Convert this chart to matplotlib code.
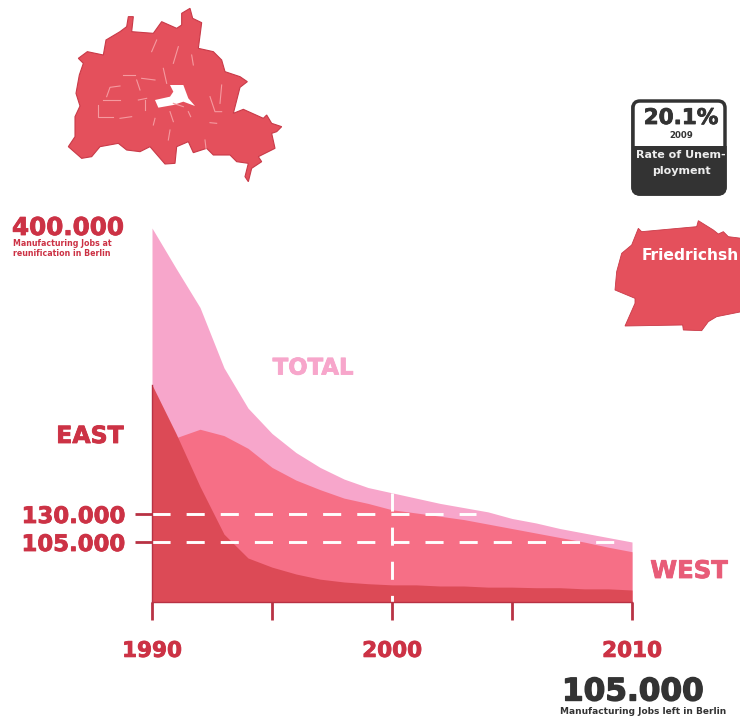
import numpy as np
import matplotlib
matplotlib.use("Agg")
import matplotlib.pyplot as plt
import matplotlib.patheffects as pe
from matplotlib.patches import Polygon, FancyBboxPatch, Rectangle

# jobs in thousands
years = list(range(1990, 2011))
total = [400, 362, 325, 268, 230, 206, 188, 174, 163, 155, 150,
         145, 140, 136, 132, 126, 122, 117, 113, 109, 105]
west = [172, 202, 210, 204, 192, 174, 162, 153, 145, 140, 134,
        131, 128, 125, 121, 117, 113, 109, 105, 96, 88]
east = [252, 206, 156, 112, 77, 61, 49, 40, 35, 32, 30,
        30, 28, 28, 26, 26, 25, 25, 23, 23, 21]

x_ticks = [1990, 1995, 2000, 2005, 2010]
x_tick_labels = ["1990", "", "2000", "", "2010"]
y_ticks = [105, 130]
y_tick_labels = ["105.000", "130.000"]

# the original's vertical axis is not linear
scale_values = [0, 105, 130, 400]
scale_heights = [0, 60, 88, 374]

# illustration outlines, in picture pixels x3
berlin = [(235, 175), (262, 155), (310, 165), (318, 120), (360, 95), (380, 80), (385, 50),
          (400, 50), (395, 95), (460, 100), (485, 65), (530, 85), (545, 75), (545, 40),
          (570, 25), (578, 55), (605, 68), (595, 145), (640, 155), (665, 180), (675, 215),
          (720, 230), (742, 245), (720, 262), (700, 340), (730, 328), (790, 355), (800, 345),
          (815, 370), (845, 380), (830, 395), (815, 400), (825, 445), (775, 470), (785, 485),
          (755, 505), (745, 545), (735, 530), (745, 490), (710, 485), (690, 465), (640, 465),
          (620, 445), (580, 458), (565, 425), (530, 440), (525, 490), (495, 492), (450, 440),
          (420, 455), (380, 450), (355, 430), (300, 440), (275, 470), (245, 475), (205, 440),
          (225, 410), (225, 350), (240, 318), (228, 280), (238, 225), (250, 190)]
berlin_hole = [(510, 255), (550, 255), (565, 295), (585, 318), (550, 305), (520, 315),
               (475, 323), (465, 300), (510, 290), (520, 275)]
districts = [[(320, 290), (330, 262), (360, 258)], [(310, 300), (360, 300)],
             [(295, 315), (295, 350), (340, 350)], [(370, 225), (405, 225)],
             [(425, 235), (465, 240)], [(410, 240), (420, 270)], [(360, 355), (395, 350)],
             [(415, 300), (440, 295)], [(435, 300), (435, 330)], [(465, 355), (460, 375)],
             [(510, 390), (505, 420)], [(535, 140), (520, 190)], [(470, 120), (455, 155)],
             [(490, 205), (500, 250)], [(575, 165), (580, 195)], [(665, 255), (660, 310)],
             [(630, 290), (645, 335), (665, 335)], [(630, 368), (650, 370)],
             [(615, 420), (618, 445)], [(520, 310), (550, 320)], [(565, 335), (572, 350)],
             [(510, 335), (520, 365)]]
# this one is x3 from (600, 90)
friedrichshain = [(115, 415), (125, 425), (290, 410), (295, 392), (340, 420), (355, 432),
                  (370, 425), (385, 440), (425, 445), (425, 665), (350, 680), (325, 695),
                  (305, 722), (250, 720), (248, 705), (75, 708), (105, 640), (105, 625),
                  (45, 600), (50, 545), (65, 490), (95, 465)]

RED = "#dc4a56"
MID = "#f66f86"
PINK = "#f7a6cb"
TEXT_RED = "#cc3245"
TICK_RED = "#b83244"
DARK = "#333333"

plt.rcParams["font.family"] = "DejaVu Sans"
plt.rcParams["font.weight"] = "bold"

fig = plt.figure(figsize=(7.4, 7.27), dpi=100)


def heavy(text, width=0.6):
    # the poster type is heavier than DejaVu bold
    text.set_path_effects([pe.withStroke(linewidth=width, foreground=text.get_color())])


# pixel layer for the maps and the captions
bg = fig.add_axes([0, 0, 1, 1])
bg.set_xlim(0, 740)
bg.set_ylim(727, 0)
bg.axis("off")

pts = np.array(berlin) / 3
bg.add_patch(Polygon(pts, fc="#e4505c", ec="#c93a48", lw=0.8))
bg.add_patch(Polygon(np.array(berlin_hole) / 3, fc="white", ec="none"))
for d in districts:
    d = np.array(d) / 3
    bg.plot(d[:, 0], d[:, 1], color="#f59aa0", lw=0.8)

pts = np.array(friedrichshain) / 3 + [600, 90]
bg.add_patch(Polygon(pts, fc="#e4505c", ec="#c93a48", lw=0.6))
bg.text(642, 256, "Friedrichsh", color="white", fontsize=11.2, va="center")

# unemployment badge
bg.add_patch(FancyBboxPatch((633, 101), 92, 93, boxstyle="round,pad=0,rounding_size=7",
                            fc=DARK, ec=DARK, lw=2.5))
bg.add_patch(Rectangle((632, 99), 95, 47, fc="white", ec="none", zorder=2))
bg.add_patch(FancyBboxPatch((633, 101), 92, 93, boxstyle="round,pad=0,rounding_size=7",
                            fc="none", ec=DARK, lw=2.5, zorder=3))
heavy(bg.text(681, 118, "20.1%", color=DARK, fontsize=15.5, ha="center", va="center", zorder=4))
bg.text(681, 135, "2009", color=DARK, fontsize=6.2, ha="center", va="center", zorder=4)
bg.text(681, 155, "Rate of Unem-", color="#eeeeee", fontsize=8, ha="center", va="center", zorder=4)
bg.text(681, 171, "ployment", color="#eeeeee", fontsize=8, ha="center", va="center", zorder=4)

heavy(bg.text(12, 228, "400.000", color=TEXT_RED, fontsize=17.7, va="center"))
bg.text(13, 243, "Manufacturing Jobs at", color=TEXT_RED, fontsize=5.65, va="center")
bg.text(13, 253, "reunification in Berlin", color=TEXT_RED, fontsize=5.65, va="center")
heavy(bg.text(633, 692, "105.000", color=DARK, fontsize=22.4, ha="center", va="center"), 1)
bg.text(643, 712, "Manufacturing Jobs left in Berlin", color=DARK, fontsize=6.5, ha="center", va="center")
heavy(bg.text(90, 436, "EAST", color=TEXT_RED, fontsize=17, ha="center", va="center"))
heavy(bg.text(313, 368, "TOTAL", color=PINK, fontsize=16.4, ha="center", va="center"))
heavy(bg.text(689, 571, "WEST", color="#e85c78", fontsize=17.5, ha="center", va="center"))

ax = fig.add_axes([152 / 740, (727 - 602) / 727, 480 / 740, 374 / 727])
ax.set_facecolor("none")
ax.set_yscale("function", functions=(
    lambda v: np.interp(v, scale_values, scale_heights),
    lambda h: np.interp(h, scale_heights, scale_values),
))
ax.fill_between(years, 0, total, color=PINK, lw=0)
ax.fill_between(years, 0, west, color=MID, lw=0)
ax.fill_between(years, 0, east, color=RED, lw=0)

dash = (0, (6.2, 5.5))
ax.plot([1990, 2003.5], [130, 130], color="white", lw=2.1, ls=dash, dash_capstyle="butt")
ax.plot([1990, 2009.4], [105, 105], color="white", lw=2.1, ls=dash, dash_capstyle="butt")
ax.plot([2000, 2000], [150, 0], color="white", lw=2.1, ls=dash, dash_capstyle="butt")

ax.set_xlim(1990, 2010)
ax.set_ylim(0, 400)
ax.set_xticks(x_ticks, x_tick_labels, fontsize=15.5, color=TEXT_RED)
ax.set_yticks(y_ticks, y_tick_labels, fontsize=16.4, color=TEXT_RED)
ax.minorticks_off()
ax.tick_params(axis="x", length=13, width=2, color=TICK_RED, pad=15)
ax.tick_params(axis="y", length=12, width=2, color=TICK_RED, pad=7)
for label in ax.get_xticklabels() + ax.get_yticklabels():
    heavy(label)
for side in ["top", "right"]:
    ax.spines[side].set_visible(False)
ax.spines["left"].set_bounds(0, east[0])
ax.spines["left"].set_color(TICK_RED)
ax.spines["left"].set_linewidth(1)
ax.spines["bottom"].set_color(TICK_RED)
ax.spines["bottom"].set_linewidth(1)

fig.savefig("out.png", dpi=100)
